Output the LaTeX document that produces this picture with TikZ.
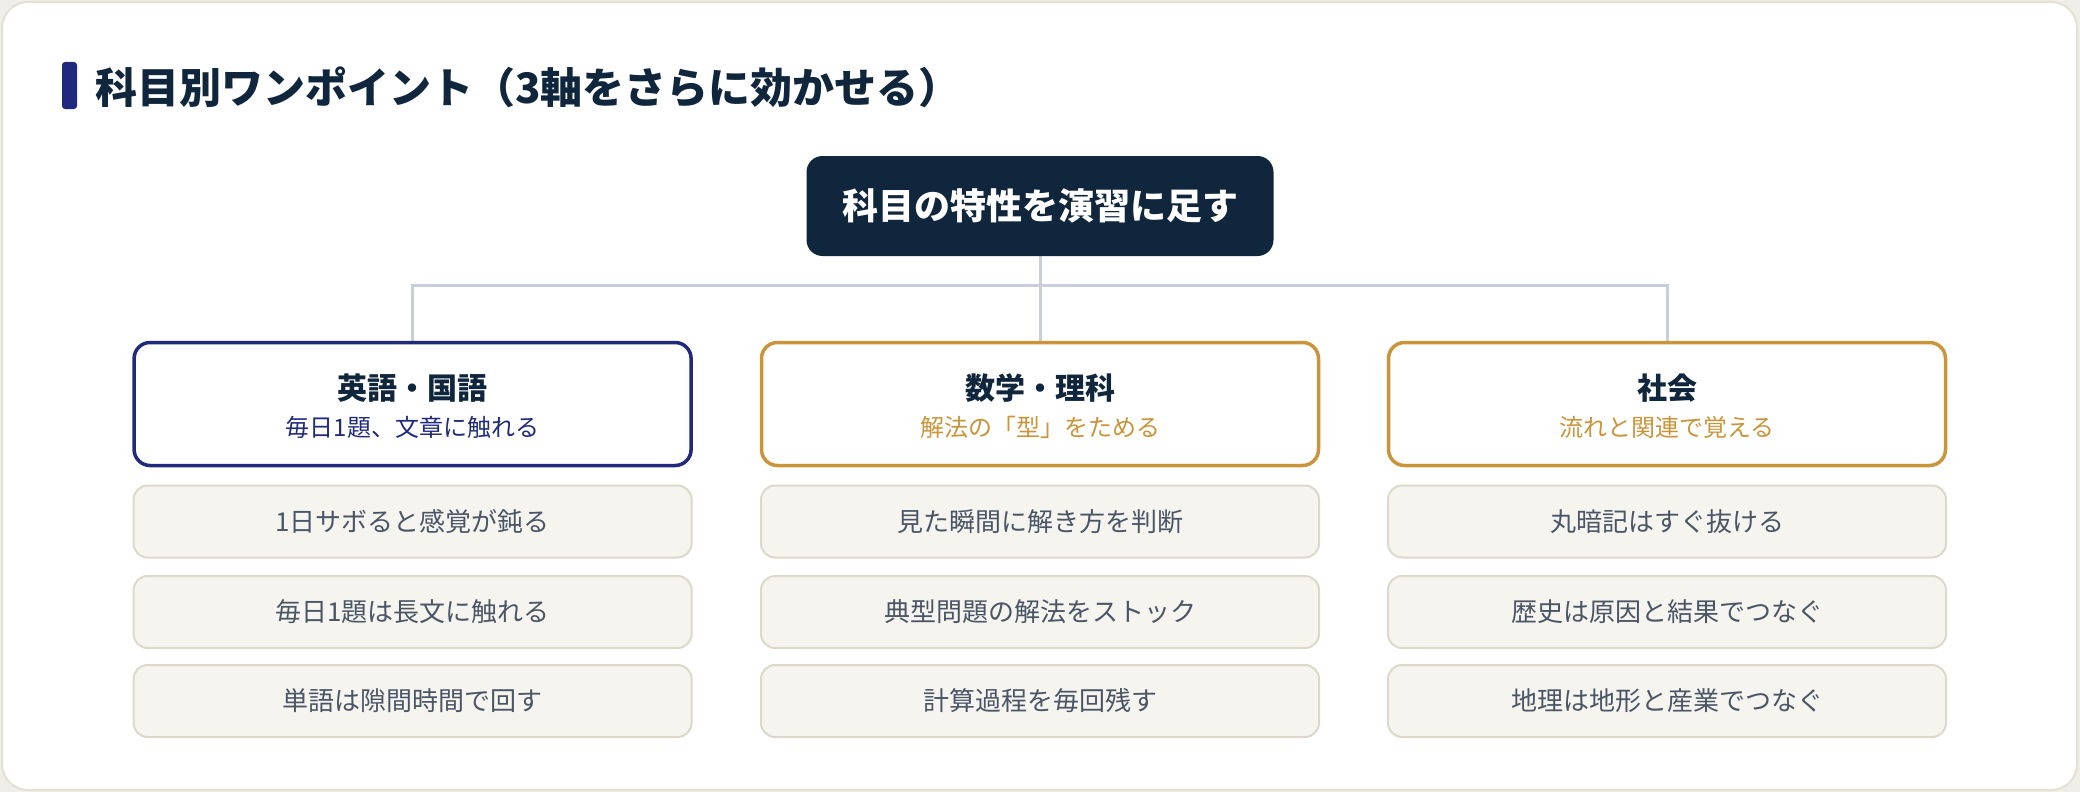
\documentclass[tikz,border=0pt]{standalone}
\usepackage{fontspec}
\setmainfont{Noto Sans CJK JP}
\definecolor{navy}{HTML}{10263D}
\definecolor{indigo}{HTML}{1F2A7C}
\definecolor{gold}{HTML}{C9943A}
\definecolor{linec}{HTML}{C8CFD9}
\definecolor{itemfill}{HTML}{F5F4EF}
\definecolor{itemdraw}{HTML}{DDD9C9}
\definecolor{itemtext}{HTML}{4A5566}
\definecolor{cardline}{HTML}{E3E0D4}
\definecolor{outbg}{HTML}{EFEEE8}
\pgfdeclarelayer{cardlayer}
\pgfdeclarelayer{connlayer}
\pgfsetlayers{cardlayer,connlayer,main}
\tikzset{
  hdrbox/.style={draw=#1, line width=3.5pt, fill=white, rounded corners=16pt,
    minimum width=557pt, minimum height=123pt, inner sep=0pt},
  itembox/.style={draw=itemdraw, line width=2pt, fill=itemfill, rounded corners=14pt,
    minimum width=558pt, minimum height=72pt, inner sep=0pt,
    text=itemtext, font=\fontsize{26}{30}\selectfont},
  hdrtitle/.style={inner sep=0pt, text=navy, font=\bfseries\fontsize{30}{34}\selectfont},
  hdrsub/.style={inner sep=0pt, text=#1, font=\fontsize{24}{28}\selectfont},
  conn/.style={draw=linec, line width=3pt},
}
\begin{document}
\begin{tikzpicture}[x=1pt,y=-1pt]
\useasboundingbox (0,0) rectangle (2080,792);
\begin{pgfonlayer}{cardlayer}
\fill[outbg] (0,0) rectangle (2080,792);
\draw[cardline, fill=white, line width=2pt, rounded corners=26pt] (2,2) rectangle (2077,790);
\end{pgfonlayer}
% title
\fill[indigo, rounded corners=3pt] (62,62) rectangle (77,109);
\node[anchor=west, inner sep=0pt, text=navy, font=\bfseries\fontsize{42}{48}\selectfont] (title) at (95,87) {科目別ワンポイント（3軸をさらに効かせる）};
% root
\node[fill=navy, rounded corners=16pt, minimum width=467pt, minimum height=100pt, inner sep=0pt,
  text=white, font=\bfseries\fontsize{36}{40}\selectfont] (root) at (1040,206) {科目の特性を演習に足す};
% headers
\node[hdrbox=indigo] (h1) at (412.6,404) {};
\node[hdrbox=gold] (h2) at (1040,404) {};
\node[hdrbox=gold] (h3) at (1667,404) {};
\node[hdrtitle] (t1) at ([yshift=16pt]h1.center) {英語・国語};
\node[hdrsub=indigo] (s1) at ([yshift=-23pt]h1.center) {毎日1題、文章に触れる};
\node[hdrtitle] (t2) at ([yshift=16pt]h2.center) {数学・理科};
\node[hdrsub=gold] (s2) at ([yshift=-23pt]h2.center) {解法の「型」をためる};
\node[hdrtitle] (t3) at ([yshift=16pt]h3.center) {社会};
\node[hdrsub=gold] (s3) at ([yshift=-23pt]h3.center) {流れと関連で覚える};
% connectors
\begin{pgfonlayer}{connlayer}
\coordinate (bus) at (1040,285.5);
\draw[conn] (root.south) -- (bus);
\draw[conn] (h1.north) |- (bus) -| (h3.north);
\draw[conn] (bus) -- (h2.north);
\end{pgfonlayer}
% items
\node[itembox] (a1) at (412.6,521.5) {1日サボると感覚が鈍る};
\node[itembox] (a2) at (412.6,612) {毎日1題は長文に触れる};
\node[itembox] (a3) at (412.6,701) {単語は隙間時間で回す};
\node[itembox] (b1) at (1040,521.5) {見た瞬間に解き方を判断};
\node[itembox] (b2) at (1040,612) {典型問題の解法をストック};
\node[itembox] (b3) at (1040,701) {計算過程を毎回残す};
\node[itembox] (c1) at (1667,521.5) {丸暗記はすぐ抜ける};
\node[itembox] (c2) at (1667,612) {歴史は原因と結果でつなぐ};
\node[itembox] (c3) at (1667,701) {地理は地形と産業でつなぐ};
\end{tikzpicture}
\end{document}
